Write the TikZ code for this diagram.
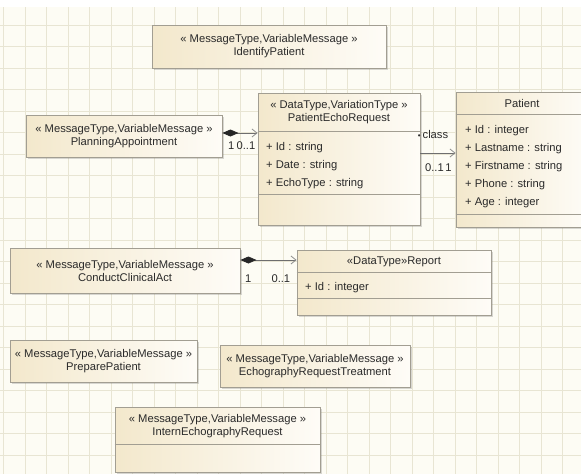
\documentclass[tikz,border=0pt]{standalone}
\usepackage{fontspec}
\setmainfont{Liberation Sans}
\usetikzlibrary{arrows.meta,calc,positioning,shadows}
\definecolor{paper}{HTML}{FDFCF4}
\definecolor{gridline}{HTML}{E8E5D3}
\definecolor{boxleft}{HTML}{F3E8CC}
\definecolor{boxright}{HTML}{FEFCF7}
\definecolor{boxline}{HTML}{A29E92}
\definecolor{assocline}{HTML}{6E6E6E}
\definecolor{umltext}{HTML}{2A2A2A}
\newcommand{\umlfont}{\fontsize{11.2}{13}\selectfont}
\tikzstyle{umlbox}=[draw=boxline, line width=0.8pt, left color=boxleft, right color=boxright, drop shadow={shadow xshift=1.5pt, shadow yshift=-1.5pt, opacity=0.25, fill=black!60}, inner sep=0pt, text=umltext, font=\umlfont, align=center]
\tikzstyle{umltitle}=[inner sep=0pt, text=umltext, font=\umlfont, align=center]
\tikzstyle{attrs}=[inner sep=0pt, anchor=north west, text=umltext, align=left, font=\fontsize{11.2}{18}\selectfont]
\tikzstyle{compart}=[draw=boxline, line width=0.8pt]
\tikzstyle{assoc}=[draw=assocline, line width=0.8pt, {Diamond[length=16pt,width=7pt,fill=black!85,color=black!85]}-{Straight Barb[length=5pt,width=8pt,color=assocline!80]}]
\tikzstyle{navig}=[draw=assocline, line width=0.8pt, -{Straight Barb[length=5pt,width=8pt,color=assocline!80]}]
\tikzstyle{mult}=[inner sep=0pt, text=umltext, font=\umlfont]
\tikzstyle{gridrule}=[draw=gridline, line width=0.6pt]

\begin{document}
\begin{tikzpicture}[x=1pt, y=-1pt]
    \useasboundingbox (0,0) rectangle (581,474);
    \clip (0,0) rectangle (581,474);
    \fill[white] (0,0) rectangle (581,474);
    \fill[paper] (0,7) rectangle (581,474);
    % grid
    \foreach \gx in {3.5,25,...,581} \draw[gridrule] (\gx,7) -- (\gx,474);
    \foreach \gy in {25,46.5,...,474} \draw[gridrule] (0,\gy) -- (581,\gy);
    % messages
    \node (identify) [umlbox, minimum width=234pt, minimum height=43pt] at (269,46.5) {« MessageType,VariableMessage »\\IdentifyPatient};
    \node (plan) [umlbox, minimum width=196pt, minimum height=42pt] at (124,136) {« MessageType,VariableMessage »\\PlanningAppointment};
    \node (conduct) [umlbox, minimum width=230pt, minimum height=45pt] at (125,270.5) {« MessageType,VariableMessage »\\ConductClinicalAct};
    \node (prepare) [umlbox, minimum width=187pt, minimum height=42pt] at (103.5,361) {« MessageType,VariableMessage »\\PreparePatient};
    \node (treat) [umlbox, minimum width=190pt, minimum height=42pt] at (315,366) {« MessageType,VariableMessage »\\EchographyRequestTreatment};
    %
    \node (intern) [umlbox, minimum width=205pt, minimum height=65pt] at (217.5,439.5) {};
    \node (interntitle) [umltitle] at (217.5,426.5) {« MessageType,VariableMessage »\\InternEchographyRequest};
    \draw[compart] ([yshift=-38pt]intern.north west) -- ([yshift=-38pt]intern.north east);
    % data types
    \node (per) [umlbox, minimum width=162pt, minimum height=132pt] at (339,159) {};
    \node (pertitle) [umltitle] at (339,112.5) {« DataType,VariationType »\\PatientEchoRequest};
    \draw[compart] ([yshift=-39pt]per.north west) -- ([yshift=-39pt]per.north east);
    \draw[compart] ([yshift=-102pt]per.north west) -- ([yshift=-102pt]per.north east);
    \node (perattrs) [attrs] at (266,142.6) {+ Id : string\\+ Date : string\\+ EchoType : string};
    %
    \node (patient) [umlbox, minimum width=132pt, minimum height=135pt] at (522,159.5) {};
    \node (patienttitle) [umltitle] at (522,103.5) {Patient};
    \draw[compart] ([yshift=-23pt]patient.north west) -- ([yshift=-23pt]patient.north east);
    \draw[compart] ([yshift=-123pt]patient.north west) -- ([yshift=-123pt]patient.north east);
    \node (patientattrs) [attrs] at (465,125.6) {+ Id : integer\\+ Lastname : string\\+ Firstname : string\\+ Phone : string\\+ Age : integer};
    %
    \node (report) [umlbox, minimum width=194pt, minimum height=65pt] at (394,282.5) {};
    \node (reporttitle) [umltitle] at (394,262) {«DataType»Report};
    \draw[compart] ([yshift=-23pt]report.north west) -- ([yshift=-23pt]report.north east);
    \draw[compart] ([yshift=-49pt]report.north west) -- ([yshift=-49pt]report.north east);
    \node (reportattrs) [attrs] at (305,282.6) {+ Id : integer};
    % associations
    \draw[assoc] ([yshift=3pt]plan.east) -- ([yshift=3pt]plan.east -| per.west)
        node[mult, pos=0.25, below=8pt] {1}
        node[mult, pos=0.67, below=8pt] {0..1};
    \draw[navig] ([yshift=6pt]per.east) -- ([yshift=6pt]per.east -| patient.west)
        node[mult, pos=0.36, above=14pt] {{\footnotesize\textbullet}\,class}
        node[mult, pos=0.40, below=10pt] {0..1}
        node[mult, pos=0.80, below=10pt] {1};
    \draw[assoc] ([yshift=10.5pt]conduct.east) -- ([yshift=10.5pt]conduct.east -| report.west)
        node[mult, pos=0.14, below=14pt] {1}
        node[mult, pos=0.72, below=14pt] {0..1};
\end{tikzpicture}
\end{document}
